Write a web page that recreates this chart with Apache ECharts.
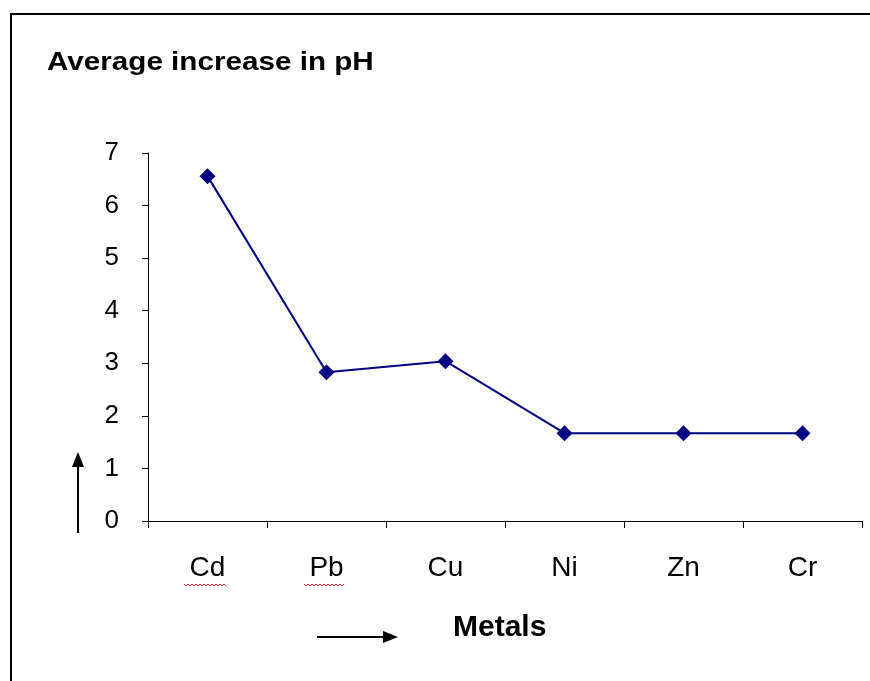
<!DOCTYPE html>
<html>
<head>
<meta charset="utf-8">
<script src="https://cdn.jsdelivr.net/npm/echarts@6/dist/echarts.min.js"></script>
<style>
  html, body { margin: 0; padding: 0; background: #fff; }
  #chart { width: 870px; height: 681px; }
</style>
</head>
<body>
<div id="chart"></div>
<script>
// Metals tested and the average pH rise measured for each
const metals = ['Cd', 'Pb', 'Cu', 'Ni', 'Zn', 'Cr'];
const phIncrease = [6.56, 2.83, 3.04, 1.67, 1.67, 1.67];
const yTicks = [0, 1, 2, 3, 4, 5, 6, 7];

const chart = echarts.init(document.getElementById('chart'), null, { renderer: 'canvas' });

const font = 'Arial, "Liberation Sans", sans-serif';

// small red squiggle (spell-check style) under a label
function squiggle(x0, x1, y) {
  const pts = [];
  let up = true;
  for (let x = x0; x <= x1; x += 2) {
    pts.push([x, up ? y : y + 2]);
    up = !up;
  }
  return {
    type: 'polyline',
    shape: { points: pts },
    style: { stroke: '#e03030', lineWidth: 1, fill: null },
    silent: true
  };
}

chart.setOption({
  animation: false,
  backgroundColor: '#ffffff',
  grid: { left: 148, top: 153, right: 8, bottom: 160, containLabel: false },
  xAxis: {
    type: 'category',
    data: metals,
    boundaryGap: true,
    axisLine: { lineStyle: { color: '#000', width: 1 } },
    axisTick: { show: true, alignWithLabel: false, length: 7, inside: false, lineStyle: { color: '#000' } },
    axisLabel: { color: '#000', fontFamily: font, fontSize: 28, margin: 33 },
    splitLine: { show: false }
  },
  yAxis: {
    type: 'value',
    min: yTicks[0],
    max: yTicks[yTicks.length - 1],
    interval: 1,
    axisLine: { show: true, lineStyle: { color: '#000', width: 1 } },
    axisTick: { show: true, length: 6, lineStyle: { color: '#000' } },
    axisLabel: { color: '#000', fontFamily: font, fontSize: 26, margin: 29 },
    splitLine: { show: false }
  },
  series: [{
    type: 'line',
    data: phIncrease,
    symbol: 'diamond',
    symbolSize: 16,
    showSymbol: true,
    lineStyle: { color: '#000080', width: 2 },
    itemStyle: { color: '#000080' }
  }],
  graphic: [
    // outer frame (top and left edges)
    { type: 'line', shape: { x1: 10, y1: 14, x2: 870, y2: 14 }, style: { stroke: '#000', lineWidth: 2 } },
    { type: 'line', shape: { x1: 11, y1: 14, x2: 11, y2: 681 }, style: { stroke: '#000', lineWidth: 2 } },
    // chart title
    {
      type: 'text', x: 47, y: 50, scaleX: 1.14,
      style: { text: 'Average increase in pH', font: 'bold 26px ' + font, fill: '#000', verticalAlign: 'top' }
    },
    // x-axis name with arrow
    {
      type: 'text', x: 453, y: 613,
      style: { text: 'Metals', font: 'bold 30px ' + font, fill: '#000', verticalAlign: 'top' }
    },
    { type: 'line', shape: { x1: 317, y1: 637, x2: 385, y2: 637 }, style: { stroke: '#000', lineWidth: 2 } },
    { type: 'polygon', shape: { points: [[383, 631], [398, 637], [383, 643]] }, style: { fill: '#000' } },
    // upward arrow beside the y-axis
    { type: 'line', shape: { x1: 78, y1: 533, x2: 78, y2: 464 }, style: { stroke: '#000', lineWidth: 2 } },
    { type: 'polygon', shape: { points: [[72, 467], [78, 452], [84, 467]] }, style: { fill: '#000' } },
    squiggle(184, 226, 584),
    squiggle(304, 344, 584)
  ]
});
</script>
</body>
</html>
